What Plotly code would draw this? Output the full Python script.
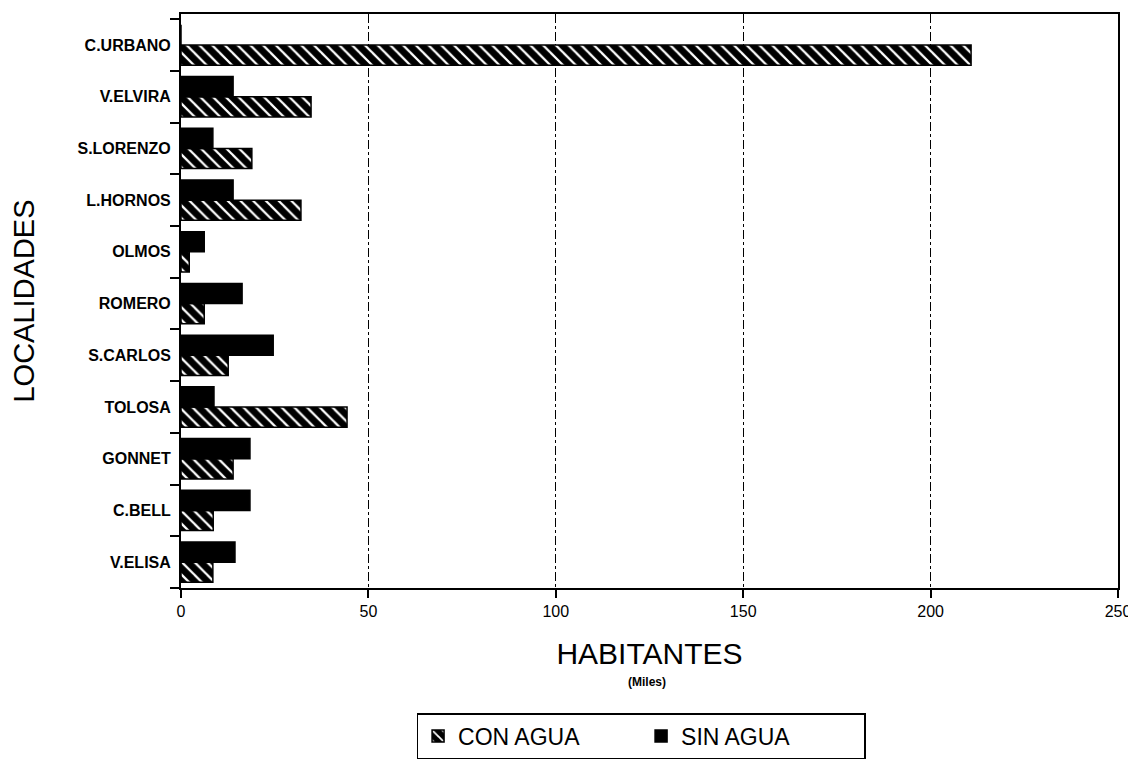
import plotly.graph_objects as go

# localidades, listed bottom -> top as drawn
localidades = ["V.ELISA", "C.BELL", "GONNET", "TOLOSA", "S.CARLOS", "ROMERO",
               "OLMOS", "L.HORNOS", "S.LORENZO", "V.ELVIRA", "C.URBANO"]
con_agua = [8.5, 8.6, 13.9, 44.3, 12.6, 6.2, 2.2, 32.0, 18.9, 34.7, 210.8]
sin_agua = [14.4, 18.4, 18.4, 8.8, 24.6, 16.3, 6.2, 13.9, 8.5, 13.9, 0.0]
x_ticks = [0, 50, 100, 150, 200, 250]

FONT = "Liberation Sans, Arial, sans-serif"

fig = go.Figure()
fig.add_trace(go.Bar(
    y=localidades, x=con_agua, orientation="h", name="CON AGUA",
    marker=dict(color="black", line=dict(color="black", width=1.5),
                pattern=dict(shape="\\", fgcolor="white", bgcolor="black",
                             size=9, solidity=0.25, fillmode="replace")),
))
fig.add_trace(go.Bar(
    y=localidades, x=sin_agua, orientation="h", name="SIN AGUA",
    marker=dict(color="black", line=dict(color="black", width=1.5)),
))

fig.update_xaxes(
    range=[0, 250], tickvals=x_ticks, ticks="outside", ticklen=8, tickcolor="black",
    tickwidth=2, showline=True, linecolor="black", linewidth=2, mirror=True,
    automargin=False, ticklabeloverflow="allow",
    showgrid=True, gridcolor="black", gridwidth=1, griddash="dashdot",
    zeroline=False, tickfont=dict(family=FONT, size=16, color="black"),
    title=dict(text="HABITANTES", font=dict(family=FONT, size=30, color="black"),
               standoff=24),
)
fig.update_yaxes(
    categoryorder="array", categoryarray=localidades, range=[-0.5, 10.6],
    tickson="boundaries", ticks="outside", ticklen=9, tickcolor="black", tickwidth=2,
    ticklabelstandoff=5, automargin=False, showline=True, linecolor="black", linewidth=2,
    mirror=True, showgrid=False,
    tickfont=dict(family=FONT, size=16, color="black", weight="bold"),
    title=dict(text="LOCALIDADES", font=dict(family=FONT, size=29, color="black"),
               standoff=36),
)
fig.add_annotation(text="<b>(Miles)</b>", xref="paper", yref="paper", x=0.497, y=-0.163,
                   yanchor="middle", showarrow=False,
                   font=dict(family=FONT, size=12, color="black"))
fig.update_layout(
    width=1128, height=757, barmode="group", bargap=0.22, bargroupgap=0.0,
    plot_bgcolor="white", paper_bgcolor="white",
    margin=dict(l=173, r=18, t=6, b=173),
    legend=dict(orientation="h", x=0.491, xanchor="center", y=-0.218, yanchor="top",
                bordercolor="black", borderwidth=1.5, bgcolor="white",
                font=dict(family=FONT, size=23, color="black"),
                itemwidth=30, entrywidth=178),
)
fig.write_html("out.html")
